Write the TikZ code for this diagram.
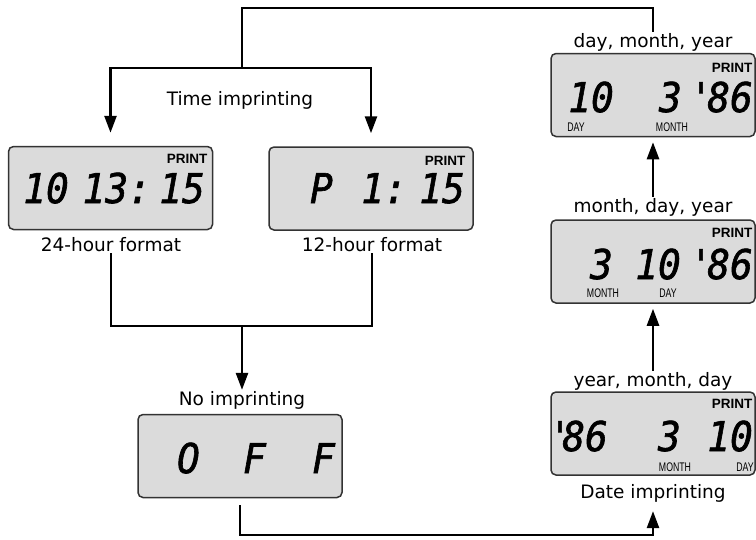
\documentclass[tikz,border=0pt]{standalone}
\usepackage{fontspec}
\setmainfont{DejaVu Sans}
\newfontfamily\lcdfont[FakeStretch=0.92, FakeBold=1.5]{DejaVu Sans Mono}
\newfontfamily\tagfont{Liberation Sans}
\newfontfamily\narrowfont[FakeStretch=0.7]{Liberation Sans}
\usetikzlibrary{arrows.meta}

\begin{document}
\begin{tikzpicture}[x=1pt, y=-1pt,
    wire/.style={line width=2.6pt},
    arr/.style={wire, -{Triangle[length=17pt, width=12pt]}},
    lcd/.style={draw=black!80, line width=1.5pt, fill=black!14, rounded corners=5pt,
        minimum width=204pt, minimum height=83pt, inner sep=0pt},
    seg/.style={font=\lcdfont\itshape\fontsize{41}{41}\selectfont,
        inner sep=0pt, anchor=base east},
    caption/.style={font=\fontsize{18.5}{20}\selectfont, inner sep=1pt},
    printtag/.style={font=\tagfont\bfseries\fontsize{13.5}{14}\selectfont, inner sep=0pt},
    unit/.style={font=\narrowfont\fontsize{12.5}{13}\selectfont, inner sep=0pt}]

    \useasboundingbox (0,0) rectangle (756,539);

    % Time imprinting
    \node[caption] (timecap) at (240,100) {Time imprinting};
    \node[lcd] (t24) at (110.5,188) {};
    \node[printtag] (print24) at (187,159) {PRINT};
    \node[seg] (h24a) at (69,203) {10};
    \node[seg] (h24b) at (151,203) {13:};
    \node[seg] (h24c) at (205,203) {15};
    \node[caption] (cap24) at (111,245) {24-hour format};

    \node[lcd] (t12) at (371,188.5) {};
    \node[printtag] (print12) at (445,161) {PRINT};
    \node[seg] (h12a) at (333,203) {P};
    \node[seg] (h12b) at (407,203) {1:};
    \node[seg] (h12c) at (465,203) {15};
    \node[caption] (cap12) at (372,245) {12-hour format};

    % No imprinting
    \node[caption] (offcap) at (242,400) {No imprinting};
    \node[lcd] (off) at (240,456) {};
    \node[seg] (offa) at (200,473) {O};
    \node[seg] (offb) at (266,473) {F};
    \node[seg] (offc) at (335,473) {F};

    % Date imprinting
    \node[caption] (dmycap) at (653,42) {day, month, year};
    \node[lcd] (dmy) at (653,95) {};
    \node[printtag] (printdmy) at (732,68) {PRINT};
    \node[seg] (dmya) at (614,112) {10};
    \node[seg] (dmyb) at (682,112) {3};
    \node[seg] (dmyc) at (753,112) {'\kern-5pt 86};
    \node[unit] (dmyday) at (576,127) {DAY};
    \node[unit] (dmymonth) at (672,127) {MONTH};

    \node[caption] (mdycap) at (653,207) {month, day, year};
    \node[lcd] (mdy) at (653,261.5) {};
    \node[printtag] (printmdy) at (732,233) {PRINT};
    \node[seg] (mdya) at (613,279) {3};
    \node[seg] (mdyb) at (681,279) {10};
    \node[seg] (mdyc) at (753,279) {'\kern-5pt 86};
    \node[unit] (mdymonth) at (603,293) {MONTH};
    \node[unit] (mdyday) at (668,293) {DAY};

    \node[caption] (ymdcap) at (653,381) {year, month, day};
    \node[lcd] (ymd) at (653,433.5) {};
    \node[printtag] (printymd) at (732,404) {PRINT};
    \node[seg] (ymda) at (608,451) {'\kern-9pt 86};
    \node[seg] (ymdb) at (681,451) {3};
    \node[seg] (ymdc) at (753,451) {10};
    \node[unit] (ymdmonth) at (675,467) {MONTH};
    \node[unit] (ymdday) at (745,467) {DAY};
    \node[caption] (datecap) at (653,493) {Date imprinting};

    % connectors
    \coordinate (top) at (242,8);
    \coordinate (split) at (242,68);
    \coordinate (merge) at (242,326);
    \coordinate (bottom) at (653,535);

    \draw[wire] (dmycap.north) |- (top) -- (split);
    \draw[arr, shorten >=13pt] (split) -| (t24.north);
    \draw[arr, shorten >=13pt] (split) -| (t12.north);
    \draw[wire] (cap24.south) |- (merge) -| (cap12.south);
    \draw[arr] (merge) -- (offcap.north);
    \draw[arr, shorten <=7pt, shorten >=8pt] (off.south) |- (bottom) -- (datecap.south);
    \draw[arr, shorten >=5pt] (ymdcap.north) -- (mdy.south);
    \draw[arr, shorten >=5pt] (mdycap.north) -- (dmy.south);

\end{tikzpicture}
\end{document}
